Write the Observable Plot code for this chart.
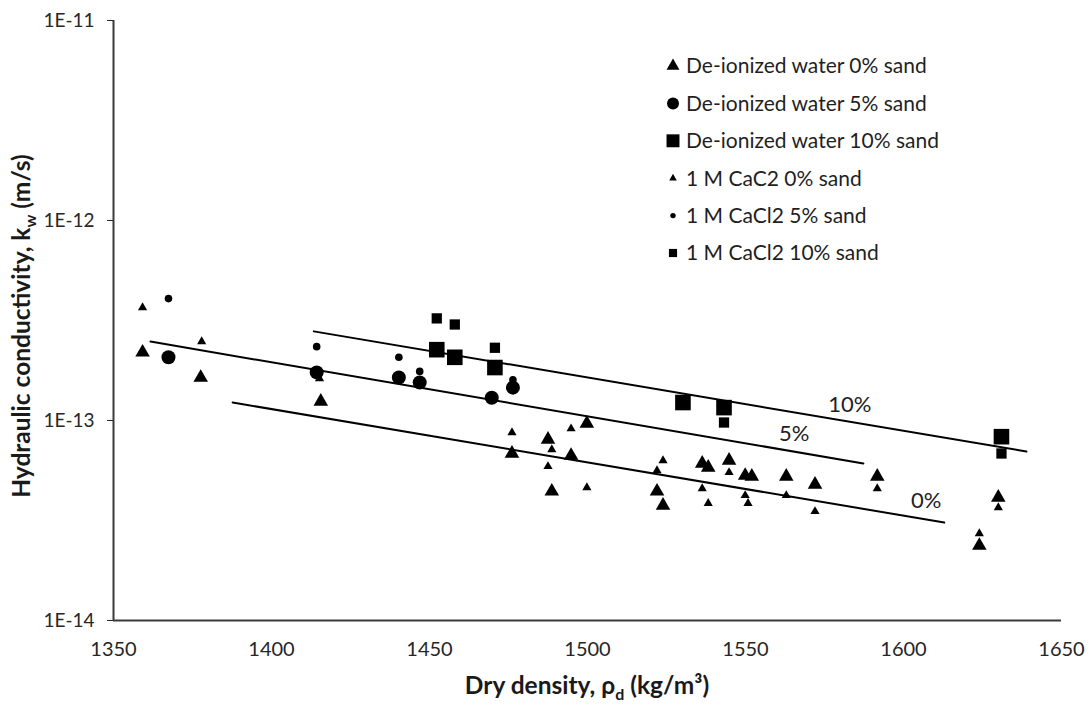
<!DOCTYPE html>
<html><head><meta charset="utf-8">
<script src="https://cdn.jsdelivr.net/npm/d3@7"></script>
<script src="https://cdn.jsdelivr.net/npm/@observablehq/plot@0.6"></script>
<style>body{margin:0;background:#fff} #chart{width:1089px;height:705px}</style>
</head><body><div id="chart"></div>
<script>
// ---- data ----
const seriesNames = ["De-ionized water 0% sand","De-ionized water 5% sand","De-ionized water 10% sand","1 M CaC2 0% sand","1 M CaCl2 5% sand","1 M CaCl2 10% sand"];

const diDens0 = [1359.2,1377.6,1415.6,1476.1,1487.5,1494.8,1499.8,1488.7,1522,1523.9,1536.3,1538.2,1544.8,1549.9,1552,1562.9,1572,1591.7,1630,1624];
const diK0    = [2.19e-13,1.64e-13,1.245e-13,6.84e-14,8.04e-14,6.68e-14,9.66e-14,4.42e-14,4.42e-14,3.76e-14,6.1e-14,5.82e-14,6.31e-14,5.3e-14,5.25e-14,5.25e-14,4.79e-14,5.25e-14,4.12e-14,2.37e-14];

const diDens5 = [1367.4,1414.3,1440.3,1446.9,1469.7,1476.4];
const diK5    = [2.07e-13,1.74e-13,1.64e-13,1.55e-13,1.3e-13,1.46e-13];

const diDens10 = [1452.3,1458,1470.7,1530.2,1543.2,1631];
const diK10    = [2.26e-13,2.07e-13,1.84e-13,1.23e-13,1.16e-13,8.3e-14];

const caDens0 = [1359.2,1377.9,1415.2,1476.1,1494.8,1488.7,1487.5,1499.8,1523.9,1522,1536.3,1538.2,1544.8,1549.9,1550.8,1562.9,1572,1591.7,1630,1624];
const caK0    = [3.67e-13,2.48e-13,1.62e-13,8.7e-14,9.1e-14,7.16e-14,5.89e-14,4.62e-14,6.31e-14,5.62e-14,4.57e-14,3.85e-14,5.5e-14,4.22e-14,3.85e-14,4.22e-14,3.51e-14,4.57e-14,3.67e-14,2.72e-14];

const caDens5 = [1367.4,1414.3,1440.3,1446.9,1476.4];
const caK5    = [4.07e-13,2.34e-13,2.07e-13,1.76e-13,1.6e-13];

const caDens10 = [1452.3,1458,1470.7,1543.2,1631];
const caK10    = [3.24e-13,3.02e-13,2.31e-13,9.77e-14,6.84e-14];

// trend lines (end points) and their labels
const trendNames = ["10%","5%","0%"];
const trendDens  = [[1413.4,1638.9],[1361.7,1587.3],[1387.7,1612.9]];
const trendK     = [[2.79e-13,7.0e-14],[2.48e-13,6.1e-14],[1.23e-13,3.09e-14]];
const trendLabelDens = [1583,1565.4,1607.2];
const trendLabelK    = [1.19e-13,8.6e-14,3.98e-14];

const xTicks = [1350,1400,1450,1500,1550,1600,1650];
const yTicks = [1e-14,1e-13,1e-12,1e-11];

// ---- build ----
const series = [
  {name: seriesNames[0], dens: diDens0, k: diK0, symbol: "triangle", r: 5.4, lr: 4.8},
  {name: seriesNames[1], dens: diDens5, k: diK5, symbol: "circle", r: 7, lr: 6},
  {name: seriesNames[2], dens: diDens10, k: diK10, symbol: "square", r: 8.8, lr: 7.3},
  {name: seriesNames[3], dens: caDens0, k: caK0, symbol: "triangle", r: 3.4, lr: 2.8},
  {name: seriesNames[4], dens: caDens5, k: caK5, symbol: "circle", r: 3.8, lr: 2.7},
  {name: seriesNames[5], dens: caDens10, k: caK10, symbol: "square", r: 5.8, lr: 4.6}
];
const toRows = s => s.dens.map((d, i) => ({dens: d, k: s.k[i]}));
const trends = trendNames.map((n, j) => trendDens[j].map((d, i) => ({name: n, dens: d, k: trendK[j][i]})));
const trendLabels = trendNames.map((n, j) => ({name: n, dens: trendLabelDens[j], k: trendLabelK[j]}));

const marks = [
  Plot.ruleX([1350], {stroke: "#3a3a3a", strokeWidth: 2}),
  Plot.ruleY([1e-14], {stroke: "#3a3a3a", strokeWidth: 2}),
  Plot.axisY({ticks: yTicks, tickFormat: d => "1E" + Math.round(Math.log10(d)), tickSize: 6, tickPadding: 13, label: null, fontSize: 19}),
  Plot.axisX({ticks: xTicks, tickFormat: d => String(d), tickSize: 0, tickPadding: 21, label: null, fontSize: 20}),
  ...trends.map(t => Plot.line(t, {x: "dens", y: "k", stroke: "#000", strokeWidth: 2})),
  Plot.text(trendLabels, {x: "dens", y: "k", text: "name", fontSize: 22, fill: "#222"}),
  ...series.map(s => Plot.dot(toRows(s), {x: "dens", y: "k", symbol: s.symbol, r: s.r, fill: "#000", stroke: "none"}))
];

const chart = Plot.plot({
  width: 1089, height: 705,
  marginLeft: 113, marginRight: 28, marginTop: 20, marginBottom: 85,
  style: {fontFamily: "Lato, 'Open Sans', sans-serif", color: "#262626", background: "#fff"},
  x: {domain: [1350, 1650]},
  y: {type: "log", domain: [1e-14, 1e-11]},
  marks
});

const svg = d3.select(chart);
// axis titles
const xt = svg.append("text").attr("x", 587).attr("y", 694).attr("text-anchor", "middle")
  .attr("font-size", 24.5).attr("font-weight", "bold").attr("fill", "#1a1a1a");
xt.append("tspan").text("Dry density, ρ");
xt.append("tspan").attr("font-size", 16).attr("dy", 6).text("d");
xt.append("tspan").attr("dy", -6).text(" (kg/m³)");

const yt = svg.append("text").attr("transform", "translate(30,326) rotate(-90)").attr("text-anchor", "middle")
  .attr("font-size", 24.5).attr("font-weight", "bold").attr("fill", "#1a1a1a");
yt.append("tspan").text("Hydraulic conductivity, k");
yt.append("tspan").attr("font-size", 16).attr("dy", 6).text("w");
yt.append("tspan").attr("dy", -6).text(" (m/s)");

// legend
const symbolTypes = {triangle: d3.symbolTriangle, circle: d3.symbolCircle, square: d3.symbolSquare};
const lg = svg.append("g").attr("font-size", 21).attr("fill", "#1f1f1f").attr("text-anchor", "start");
series.forEach((s, i) => {
  const yy = 66 + i * 37.4;
  lg.append("path").attr("d", d3.symbol(symbolTypes[s.symbol], Math.PI * s.lr * s.lr)())
    .attr("transform", `translate(673,${yy})`).attr("fill", "#000");
  lg.append("text").attr("x", 686).attr("y", yy).attr("dy", "0.35em").text(s.name);
});

document.getElementById("chart").appendChild(chart);
</script>
</body></html>
